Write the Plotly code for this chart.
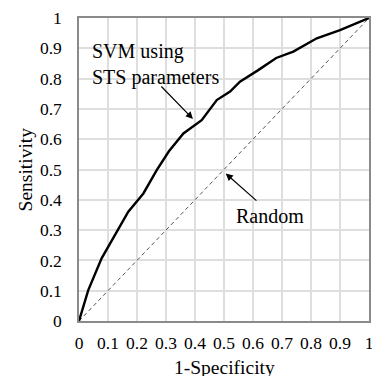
import plotly.graph_objects as go

fpr = [0, 0.032, 0.078, 0.124, 0.170, 0.222, 0.268, 0.31, 0.36, 0.423, 0.475, 0.521, 0.555, 0.618, 0.68, 0.739, 0.82, 0.9, 1.0]
tpr = [0, 0.102, 0.207, 0.284, 0.361, 0.421, 0.498, 0.56, 0.619, 0.663, 0.729, 0.757, 0.79, 0.828, 0.868, 0.889, 0.933, 0.96, 1.0]
rand_x = [0, 1]
rand_y = [0, 1]
tick_vals = [0, 0.1, 0.2, 0.3, 0.4, 0.5, 0.6, 0.7, 0.8, 0.9, 1]
tick_text = ["0", "0.1", "0.2", "0.3", "0.4", "0.5", "0.6", "0.7", "0.8", "0.9", "1"]

FONT = "Liberation Serif"

fig = go.Figure()
fig.add_trace(go.Scatter(x=rand_x, y=rand_y, mode="lines",
                         line=dict(color="#555555", width=1, dash="4px,3px"),
                         showlegend=False, hoverinfo="skip"))
fig.add_trace(go.Scatter(x=fpr, y=tpr, mode="lines",
                         line=dict(color="black", width=2.4),
                         showlegend=False, hoverinfo="skip"))

axis_common = dict(range=[0, 1], tickvals=tick_vals, ticktext=tick_text,
                   showgrid=True, gridcolor="#dedede", gridwidth=1.5,
                   showline=True, linecolor="#8a8a8a", linewidth=1.5, mirror=True,
                   zeroline=False, ticks="outside", tickcolor="rgba(0,0,0,0)",
                   automargin=False, ticklabeloverflow="allow",
                   tickfont=dict(family=FONT, size=17.5, color="black"))

fig.update_xaxes(**axis_common, ticklen=5)
fig.update_yaxes(**axis_common, ticklen=12)

fig.add_annotation(x=0.393, y=0.667, ax=0.279, ay=0.779, xref="x", yref="y",
                   axref="x", ayref="y", showarrow=True, arrowhead=2,
                   arrowsize=1.2, arrowwidth=1.2, arrowcolor="black", text="")
fig.add_annotation(x=0.506, y=0.487, ax=0.617, ay=0.393, xref="x", yref="y",
                   axref="x", ayref="y", showarrow=True, arrowhead=2,
                   arrowsize=1.2, arrowwidth=1.2, arrowcolor="black", text="")
fig.add_annotation(x=0.038, y=0.848, xref="x", yref="y", xanchor="left", yanchor="middle",
                   text="SVM using<br>STS parameters", showarrow=False, align="left",
                   font=dict(family=FONT, size=20, color="black"))
fig.add_annotation(x=0.659, y=0.347, xref="x", yref="y", xanchor="center", yanchor="middle",
                   text="Random", showarrow=False,
                   font=dict(family=FONT, size=20, color="black"))
fig.add_annotation(x=0.5, y=-0.152, xref="paper", yref="paper", xanchor="center", yanchor="middle",
                   text="1-Specificity", showarrow=False,
                   font=dict(family=FONT, size=19.5, color="black"))
fig.add_annotation(x=-0.183, y=0.5, xref="paper", yref="paper", xanchor="center", yanchor="middle",
                   text="Sensitivity", showarrow=False, textangle=-90,
                   font=dict(family=FONT, size=19.5, color="black"))

fig.update_layout(width=372, height=376, margin=dict(l=79, r=3, t=18, b=55),
                  paper_bgcolor="white", plot_bgcolor="white",
                  font=dict(family=FONT))

fig.write_html("out.html", config={"displayModeBar": False},
               post_script="document.body.style.margin='0';document.body.style.overflow='hidden';")
